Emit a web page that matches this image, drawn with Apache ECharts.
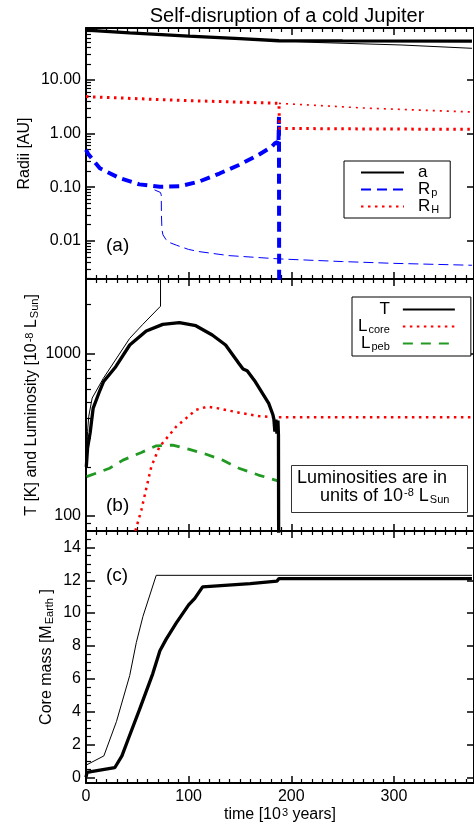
<!DOCTYPE html>
<html><head><meta charset="utf-8">
<script src="https://cdn.jsdelivr.net/npm/echarts@6/dist/echarts.min.js"></script>
<style>html,body{margin:0;padding:0;background:#fff}#c{width:474px;height:830px}</style>
</head><body><div id="c"></div>
<script>
// ---------------- data ----------------
// time in 10^3 years
const xTicks = [0, 100, 200, 300];
const yTicksA = [0.01, 0.1, 1, 10];
const yTicksB = [100, 1000];
const yTicksC = [0, 2, 4, 6, 8, 10, 12, 14];

// Panel (a): radii [AU]
const aThick  = [[0,85],[42.6,76],[100,66],[150,59],[188,54],[250,53.6],[376,53]];
const aThin   = [[188,54],[226,50],[307,45],[376,39]];
const rpThick = [[0,0.5],[2,0.42],[13.5,0.225],[33,0.147],[52,0.113],[72,0.102],[91,0.104],[110,0.127],[130,0.18],[149,0.26],[168,0.40],[181,0.57],[184,0.66],[186.5,0.7],[187.5,0.6],[188,2.05],[188.3,0.00001]];
const rpThin  = [[66.8,0.089],[72.5,0.08],[73.3,0.072],[73.5,0.03],[74,0.016],[75,0.0129],[78,0.0105],[82,0.0092],[88,0.0083],[100,0.0069],[110,0.0063],[139,0.0053],[188,0.0046],[250,0.0041],[300,0.0038],[376,0.0035]];
const rhThick = [[0,4.9],[91,4.17],[188,3.67],[188.5,1.25],[280,1.22],[376,1.2]];
const rhThin  = [[188,3.67],[275,2.97],[376,2.53]];

// Panel (b): temperature [K] and luminosities [1e-8 Lsun]
const tThick = [[0.3,200],[1.5,260],[4,323],[7,460],[13.5,590],[17,668],[29,827],[42.6,1125],[58.7,1372],[74.8,1507],[91,1543],[107,1479],[123,1296],[136,1125],[149,866],[153,800],[157,780],[165,668],[178,492],[182,420],[183,395],[184,330],[185,390],[186,320],[187,385],[187.5,315],[188,310],[188.2,1]];
const tThin  = [[0.3,200],[1.5,330],[2.7,410],[6,530],[16.8,700],[42.6,1237],[55,1500],[72.6,1950],[72.8,100000]];
const lCore  = [[46,60],[48.4,82],[53.9,108],[58.7,147],[63.6,200],[71.6,266],[79.7,306],[87.8,353],[97.5,398],[107,448],[118,469],[129,458],[149,431],[168,411],[184.6,404],[376,404]];
const lPeb   = [[0.6,174],[23,196],[36,220],[54,245],[68,269],[84.5,272],[100.7,256],[117,239],[133,220],[149,196],[168,178],[187,164],[188,160]];

// Panel (c): core mass [M_Earth]
const mThick = [[0,0],[0.8,0.1],[1,0.3],[5,0.35],[15,0.45],[28,0.58],[35,1.3],[41,2.3],[52,4.1],[65,6.3],[72,7.7],[78,8.4],[88,9.4],[100,10.5],[106,10.9],[113.6,11.6],[160,11.8],[186,11.95],[188,12.1],[376,12.1]];
const mThin  = [[0,0],[0.5,0.75],[1,0.8],[17.4,1.3],[29.7,3.4],[42.6,6.2],[49,8.2],[55.5,9.8],[68.4,12.3],[376,12.3]];

// ---------------- chart ----------------
const FONT = 'Liberation Sans, Arial, Helvetica, sans-serif';
const XMAX = 378;
const xMinor = []; for (let v = 10; v < XMAX; v += 10) if (v % 100) xMinor.push(v);
function logMinor(lo, hi) { const r = []; for (let k = lo; k <= hi; k++) for (let m = 2; m <= 9; m++) r.push(+(m * Math.pow(10, k)).toPrecision(3)); return r; }
const yMinorA = logMinor(-3, 1);
const yMinorB = logMinor(1, 3);
const yMinorC = []; for (let v = 0.5; v < 15; v += 0.5) if (v % 2) yMinorC.push(v);

const richText = {
  sub: { fontSize: 11, lineHeight: 11, verticalAlign: 'bottom', padding: [9, 0, 0, 1], fontFamily: FONT, color: '#000' },
  sup: { fontSize: 11, lineHeight: 11, verticalAlign: 'top', padding: [0, 0, 9, 1], fontFamily: FONT, color: '#000' }
};

const grids = [
  { left: 86, top: 28, width: 390, height: 251 },
  { left: 86, top: 279, width: 390, height: 252 },
  { left: 86, top: 531, width: 390, height: 252 }
];

const xAxis = [];
grids.forEach((g, gi) => {
  ['bottom', 'top'].forEach(pos => {
    const labels = gi === 2 && pos === 'bottom';
    xAxis.push({
      type: 'value', gridIndex: gi, position: pos, min: 0, max: XMAX,
      name: labels ? 'time [10{sup|3} years]' : '', nameLocation: 'middle', nameGap: 24,
      nameTextStyle: { fontSize: 16, color: '#000', fontFamily: FONT, rich: richText },
      axisLine: { show: true, onZero: false, lineStyle: { color: '#000', width: 2 } },
      axisTick: { show: true, inside: true, length: 7, customValues: xTicks, lineStyle: { color: '#000', width: 1.5 } },
      axisLabel: { show: labels, customValues: xTicks, fontSize: 16, color: '#000', fontFamily: FONT, margin: 6 },
      splitLine: { show: false }
    });
    xAxis.push({
      type: 'value', gridIndex: gi, position: pos, min: 0, max: XMAX,
      axisLine: { show: false, onZero: false },
      axisTick: { show: true, inside: true, length: 4, customValues: xMinor, lineStyle: { color: '#000', width: 1.2 } },
      axisLabel: { show: false }, splitLine: { show: false }
    });
  });
});

const yCfg = [
  { type: 'log', min: 0.00194, max: 93.3, ticks: yTicksA, minor: yMinorA, fmt: v => Number(v).toFixed(2),
    name: 'Radii [AU]', gap: 53 },
  { type: 'log', min: 80.5, max: 2868, ticks: yTicksB, minor: yMinorB, fmt: v => String(Math.round(v)),
    name: 'T [K] and Luminosity [10{sup|-8} L{sub|Sun}]', gap: 46 },
  { type: 'value', min: -0.35, max: 15, ticks: yTicksC, minor: yMinorC, fmt: v => String(Math.round(v)),
    name: 'Core mass [M{sub|Earth} ]', gap: 31 }
];
const yAxis = [];
yCfg.forEach((c, gi) => {
  const base = { type: c.type, gridIndex: gi, min: c.min, max: c.max, splitLine: { show: false } };
  if (c.type === 'log') base.logBase = 10;
  yAxis.push(Object.assign({}, base, {
    position: 'left', name: c.name, nameLocation: 'middle', nameGap: c.gap, nameMoveOverlap: false,
    nameTextStyle: { fontSize: 16, color: '#000', fontFamily: FONT, rich: richText },
    axisLine: { show: true, onZero: false, lineStyle: { color: '#000', width: 2 } },
    axisTick: { show: true, inside: true, length: 9, customValues: c.ticks, lineStyle: { color: '#000', width: 1.5 } },
    axisLabel: { show: true, customValues: c.ticks, formatter: c.fmt, fontSize: 16, color: '#000', fontFamily: FONT, margin: 5 }
  }));
  yAxis.push(Object.assign({}, base, {
    position: 'left',
    axisLine: { show: false, onZero: false },
    axisTick: { show: true, inside: true, length: 5, customValues: c.minor, lineStyle: { color: '#000', width: 1.2 } },
    axisLabel: { show: false }
  }));
  yAxis.push(Object.assign({}, base, {
    position: 'right',
    axisLine: { show: true, onZero: false, lineStyle: { color: '#000', width: 2 } },
    axisTick: { show: true, inside: true, length: 7, customValues: c.ticks, lineStyle: { color: '#000', width: 1.5 } },
    axisLabel: { show: false }
  }));
});

function line(name, gi, data, color, width, type, z) {
  return {
    name, type: 'line', xAxisIndex: gi * 4, yAxisIndex: gi * 3, data,
    showSymbol: false, symbol: 'none', clip: true, animation: false, z: z || 2,
    lineStyle: { color, width, type: type || 'solid', cap: 'butt' },
    itemStyle: { color }
  };
}
const RED = '#ff0000', BLUE = '#0000ff', GREEN = '#229922';
const series = [
  line('a', 0, aThick, '#000', 3.3),
  line('a_thin', 0, aThin, '#000', 1),
  line('Rp', 0, rpThick, BLUE, 4, [10, 6]),
  line('Rp_thin', 0, rpThin, BLUE, 1, [10, 5]),
  line('RH', 0, rhThick, RED, 3, [2.5, 4.5]),
  line('RH_thin', 0, rhThin, RED, 1.6, [2, 5]),
  line('T', 1, tThick, '#000', 3.3, 'solid', 3),
  line('T_thin', 1, tThin, '#000', 1),
  line('Lcore', 1, lCore, RED, 2.5, [2.5, 4.5]),
  line('Lpeb', 1, lPeb, GREEN, 2.8, [10, 8]),
  line('M', 2, mThick, '#000', 3.3),
  line('M_thin', 2, mThin, '#000', 1)
];

const legendNames = { a: 'a', Rp: 'R{sub|p}', RH: 'R{sub|H}', T: 'T', Lcore: 'L{sub|core}', Lpeb: 'L{sub|peb}' };
const legendCommon = {
  orient: 'vertical', itemHeight: 20, itemGap: -3, selectedMode: false,
  borderColor: '#000', borderWidth: 1, backgroundColor: '#fff',
  itemStyle: { opacity: 0 },
  formatter: n => legendNames[n],
  textStyle: { fontSize: 17, lineHeight: 17, color: '#000', fontFamily: FONT, rich: richText }
};

const option = {
  backgroundColor: '#fff',
  animation: false,
  title: {
    text: 'Self-disruption of a cold Jupiter', left: 282, top: 1, textAlign: 'center',
    textStyle: { fontSize: 20, fontWeight: 'normal', color: '#000', fontFamily: FONT }
  },
  grid: grids,
  xAxis, yAxis, series,
  legend: [
    Object.assign({}, legendCommon, {
      data: ['a', 'Rp', 'RH'], left: 344, top: 161, itemWidth: 43, align: 'left',
      padding: [3, 11, 3, 16],
      textStyle: Object.assign({}, legendCommon.textStyle, { padding: [0, 0, 0, 9] })
    }),
    Object.assign({}, legendCommon, {
      data: ['T', 'Lcore', 'Lpeb'], left: 352, top: 297, itemWidth: 52, align: 'right',
      padding: [4, 15, 4, 6],
      textStyle: Object.assign({}, legendCommon.textStyle, { padding: [0, 8, 0, 0] })
    })
  ],
  graphic: [
    { type: 'text', left: 106, top: 236, style: { text: '(a)', font: '19px ' + FONT, fill: '#000' } },
    { type: 'text', left: 106, top: 496, style: { text: '(b)', font: '19px ' + FONT, fill: '#000' } },
    { type: 'text', left: 106, top: 566, style: { text: '(c)', font: '19px ' + FONT, fill: '#000' } },
    { type: 'rect', left: 291, top: 465, shape: { width: 176, height: 47 },
      style: { fill: '#fff', stroke: '#333', lineWidth: 1 }, z: 10 },
    { type: 'text', left: 297, top: 469, z: 11,
      style: { text: 'Luminosities are in', font: '18px ' + FONT, fill: '#000' } },
    { type: 'text', left: 320, top: 485, z: 11,
      style: { text: 'units of 10{sup|-8} L{sub|Sun}', font: '18px ' + FONT, fill: '#000', rich: richText } }
  ]
};

const chart = echarts.init(document.getElementById('c'), null, { renderer: 'canvas' });
chart.setOption(option);
</script>
</body></html>
